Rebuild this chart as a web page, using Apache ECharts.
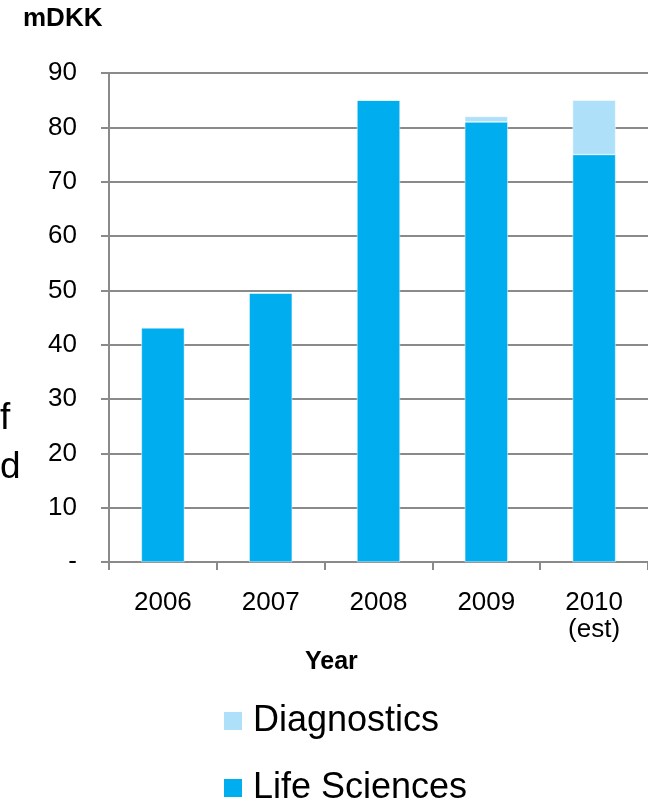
<!DOCTYPE html>
<html><head><meta charset="utf-8">
<script src="https://cdn.jsdelivr.net/npm/echarts@6/dist/echarts.min.js"></script>
<style>html,body{margin:0;padding:0;background:#fff}#c{width:648px;height:800px}</style>
</head><body><div id="c"></div>
<script>
const categories = ['2006', '2007', '2008', '2009', '2010'];
const categoryNotes = ['', '', '', '', '(est)'];
const lifeSciences = [43.1, 49.5, 85, 81, 75];
const diagnostics = [0, 0, 0, 1, 10];
const yTicks = [0, 10, 20, 30, 40, 50, 60, 70, 80, 90];

const font = '"Liberation Sans", Arial, sans-serif';
const grey = '#8a8a8a';
const legendText = { fontSize: 36, lineHeight: 36, color: '#000', fontFamily: font, padding: [0, 0, 0, 5] };
const chart = echarts.init(document.getElementById('c'));
chart.setOption({
  animation: false,
  textStyle: { fontFamily: font },
  grid: { left: 109, top: 73, width: 545, height: 489, containLabel: false },
  legend: [
    {
      orient: 'vertical', left: 222, top: 703, padding: 0,
      itemWidth: 20, itemHeight: 20, icon: 'rect',
      data: ['Diagnostics'], textStyle: legendText
    },
    {
      orient: 'vertical', left: 222, top: 770, padding: 0,
      itemWidth: 20, itemHeight: 20, icon: 'rect',
      data: ['Life Sciences'], textStyle: legendText
    }
  ],
  xAxis: {
    type: 'category', data: categories,
    axisLine: { lineStyle: { color: grey, width: 2 } },
    axisTick: { show: true, length: 8, lineStyle: { color: grey, width: 2 } },
    axisLabel: {
      margin: 27, color: '#000', fontSize: 26, fontFamily: font, lineHeight: 27,
      formatter: function (v, i) {
        return categoryNotes[i] ? v + '\n' + categoryNotes[i] : v;
      }
    }
  },
  yAxis: {
    type: 'value', min: 0, max: 90, interval: 10,
    axisLine: { show: true, lineStyle: { color: grey, width: 2 } },
    axisTick: { show: true, length: 8, lineStyle: { color: grey, width: 2 } },
    splitLine: { lineStyle: { color: grey, width: 2 } },
    axisLabel: {
      margin: 32, color: '#000', fontSize: 26, fontFamily: font,
      formatter: function (v) { return v === 0 ? '-' : String(v); }
    }
  },
  graphic: [
    { type: 'text', left: 23, top: 6, style: { text: 'mDKK', font: 'bold 26px ' + font, fill: '#000' } },
    { type: 'text', left: 305, top: 650, style: { text: 'Year', font: 'bold 25px ' + font, fill: '#000' } },
    { type: 'text', left: 0, top: 400, style: { text: 'f', font: '37px ' + font, fill: '#000' } },
    { type: 'text', left: 0, top: 449, style: { text: 'd', font: '37px ' + font, fill: '#000' } }
  ],
  series: [
    {
      name: 'Life Sciences', type: 'bar', stack: 'total', data: lifeSciences,
      barWidth: 43,
      itemStyle: { color: '#00AEEF', borderColor: '#ffffff', borderWidth: 0.5 }
    },
    {
      name: 'Diagnostics', type: 'bar', stack: 'total', data: diagnostics,
      barWidth: 43,
      itemStyle: { color: '#AEE0FA', borderColor: '#ffffff', borderWidth: 0.5 }
    }
  ]
});
</script></body></html>
